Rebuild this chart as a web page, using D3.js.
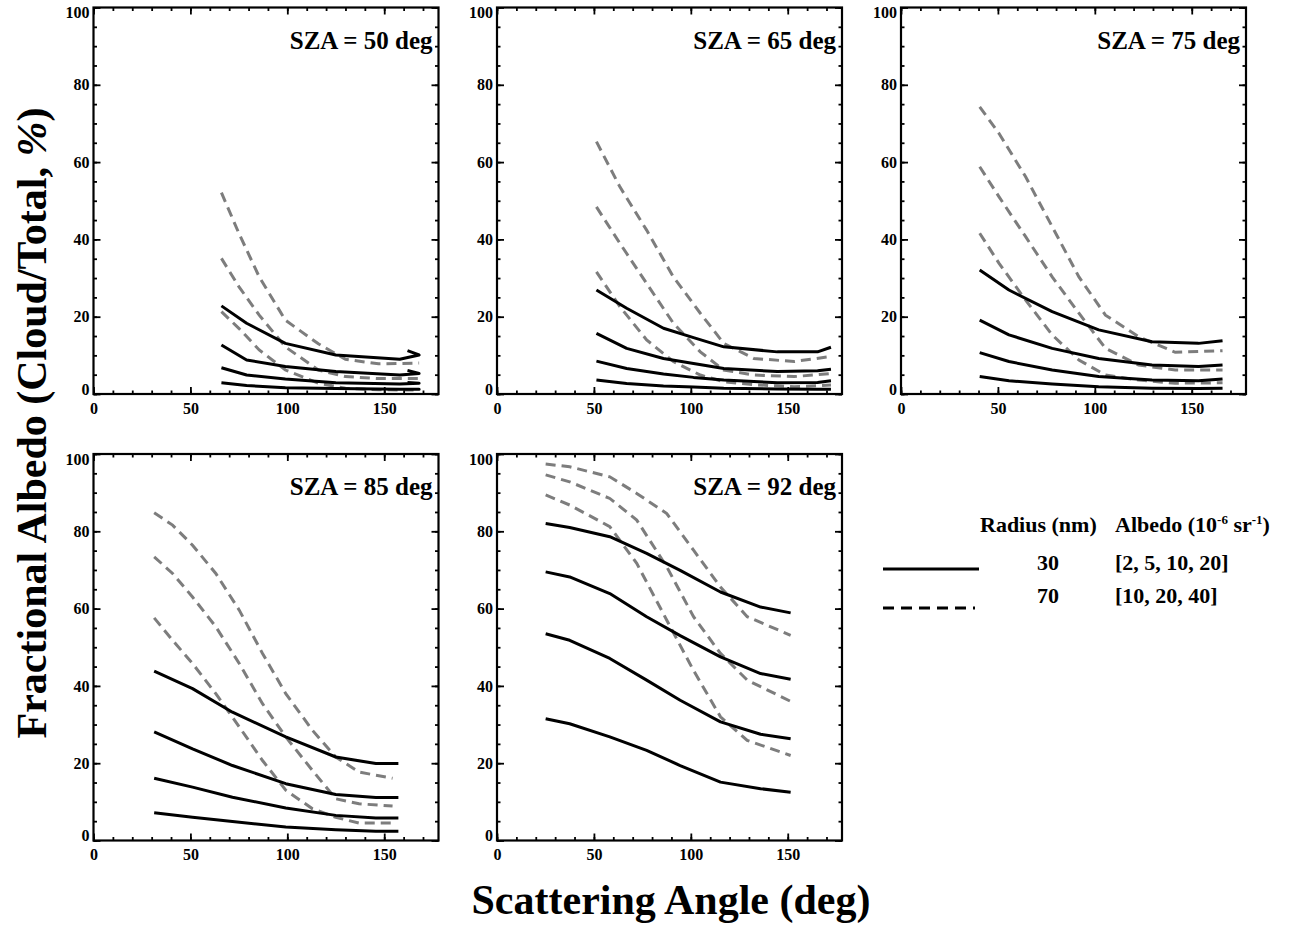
<!DOCTYPE html>
<html>
<head>
<meta charset="utf-8">
<script src="https://cdn.jsdelivr.net/npm/d3@7"></script>
<style>
  html, body { margin: 0; padding: 0; background: #fff; }
  svg { display: block; }
  text { font-family: "Liberation Serif", "Times New Roman", serif; font-weight: bold; fill: #000; }
</style>
</head>
<body>
<svg id="chart" width="1293" height="930"></svg>
<script>
// ---------------- DATA ----------------
const szaLabels = ["SZA = 50 deg", "SZA = 65 deg", "SZA = 75 deg", "SZA = 85 deg", "SZA = 92 deg"];
const xTicks = [0, 50, 100, 150];
const yTicks = [0, 20, 40, 60, 80, 100];

// SZA = 50
const angSolid50 = [66, 79, 99, 125, 158, 168, 162];
const solid50 = [
  [22.8, 18.3, 13.1, 10.1, 9.0, 10.1, 11.2],
  [12.7, 8.8, 7.1, 5.8, 4.9, 5.3, 6.1],
  [6.8, 4.9, 3.9, 2.9, 2.6, 2.8, 3.0],
  [2.9, 2.2, 1.6, 1.4, 1.2, 1.2, 1.2]
];
const angDash50 = [66, 75, 85.5, 99, 116, 130, 147, 168];
const dash50 = [
  [52.1, 41.6, 30.3, 19.1, 13.0, 9.0, 7.8, 8.0],
  [35.1, 27.8, 20.4, 12.2, 6.2, 4.5, 4.0, 4.0],
  [21.3, 17.0, 11.4, 6.2, 2.8, 1.5, 1.1, 1.0]
];

// SZA = 65
const angSolid65 = [51.3, 66.9, 85.9, 101.4, 117, 144.6, 165.4, 172.3];
const solid65 = [
  [26.9, 22.2, 17.0, 14.6, 12.2, 10.9, 10.9, 12.1],
  [15.7, 11.8, 9.2, 7.9, 6.6, 5.8, 6.0, 6.4],
  [8.5, 6.6, 5.2, 4.3, 3.6, 2.9, 3.0, 3.4],
  [3.6, 2.7, 2.1, 1.8, 1.5, 1.3, 1.2, 1.2]
];
const angDash65 = [51.3, 63.4, 77.2, 91, 104.9, 117, 132.5, 153.3, 172.3];
const dash65 = [
  [65.3, 53.6, 42.4, 30.3, 20.9, 13.1, 9.2, 8.4, 9.7],
  [48.4, 39.0, 28.6, 18.3, 10.9, 6.2, 4.9, 4.5, 5.3],
  [31.6, 22.6, 14.0, 8.4, 4.9, 3.2, 2.4, 1.9, 2.3]
];

// SZA = 75
const angSolid75 = [40.6, 55.7, 78, 102, 129.5, 153.5, 165.9];
const solid75 = [
  [32.1, 26.9, 21.3, 16.6, 13.5, 13.1, 13.8],
  [19.1, 15.3, 11.8, 9.2, 7.5, 7.1, 7.5],
  [10.7, 8.4, 6.2, 4.5, 3.6, 3.4, 3.9],
  [4.5, 3.4, 2.6, 1.9, 1.5, 1.4, 1.5]
];
const angDash75 = [40.6, 50.6, 64.3, 78, 91.8, 105.5, 122.6, 141.5, 165.9];
const dash75 = [
  [74.3, 67.4, 56.2, 43.3, 30.3, 20.4, 14.8, 10.8, 11.2],
  [58.8, 51.0, 40.7, 30.3, 20.9, 11.8, 7.5, 6.2, 6.2],
  [41.6, 33.8, 24.3, 15.3, 8.8, 4.9, 3.6, 2.8, 2.9]
];

// SZA = 85
const angSolid85 = [31.3, 51.1, 71.7, 99.2, 125, 145.7, 157.3];
const solid85 = [
  [43.8, 39.3, 33.2, 26.8, 21.6, 19.9, 19.9],
  [28.1, 23.7, 19.4, 14.7, 11.9, 11.1, 11.1],
  [16.1, 13.8, 11.2, 8.4, 6.5, 5.8, 5.8],
  [7.2, 6.0, 4.9, 3.5, 2.8, 2.4, 2.4]
];
const angDash85 = [31.3, 40.8, 51.1, 63.1, 75.2, 87.2, 99.2, 113, 125, 137, 154.3];
const dash85 = [
  [84.8, 81.6, 76.4, 69.1, 59.6, 48.4, 38.0, 28.5, 21.6, 17.7, 16.1],
  [73.4, 69.1, 63.0, 55.3, 45.8, 35.4, 26.8, 18.1, 10.8, 9.5, 8.9],
  [57.6, 51.8, 45.8, 38.0, 29.4, 20.7, 13.0, 8.2, 6.0, 4.5, 4.5]
];

// SZA = 92
const angSolid92 = [25.1, 37.5, 58.2, 77.2, 94.5, 115.3, 136, 151.5];
const solid92 = [
  [82.0, 81.0, 78.6, 74.3, 69.9, 64.3, 60.4, 58.9],
  [69.5, 68.2, 63.9, 57.9, 53.0, 47.5, 43.2, 41.7],
  [53.5, 51.8, 47.1, 41.5, 36.3, 30.7, 27.5, 26.3],
  [31.5, 30.2, 26.8, 23.3, 19.4, 15.1, 13.4, 12.5]
];
const angDash92 = [25.1, 37.5, 58.2, 72.1, 87.6, 101.4, 115.3, 129.1, 151.5];
const dash92 = [
  [97.4, 96.7, 94.1, 89.8, 84.6, 75.1, 65.6, 57.9, 53.1],
  [94.6, 92.8, 88.5, 82.9, 70.8, 57.9, 48.4, 41.5, 36.0],
  [89.4, 86.8, 81.2, 71.7, 57.0, 44.0, 32.0, 25.9, 22.0]
];

const legendRadius = ["30", "70"];
const legendAlbedo = ["[2, 5, 10, 20]", "[10, 20, 40]"];

// ---------------- LAYOUT ----------------
const svg = d3.select("#chart");
const W = 345, H = 386.5;
const lefts = [93.5, 497, 901];
const tops = [7.5, 454];
const panelPos = [[0,0],[1,0],[2,0],[0,1],[1,1]];
const panelData = [
  [angSolid50, solid50, angDash50, dash50],
  [angSolid65, solid65, angDash65, dash65],
  [angSolid75, solid75, angDash75, dash75],
  [angSolid85, solid85, angDash85, dash85],
  [angSolid92, solid92, angDash92, dash92]
];

const x = d3.scaleLinear().domain([0, 178]).range([0, W]);
const y = d3.scaleLinear().domain([0, 100]).range([H, 0]);
const xMinor = d3.range(0, 178, 10);
const yMinor = d3.range(0, 101, 5);

const line = d3.line().x(d => x(d[0])).y(d => y(d[1])).curve(d3.curveLinear);

panelPos.forEach((p, i) => {
  const g = svg.append("g").attr("transform", `translate(${lefts[p[0]]},${tops[p[1]]})`);
  const [as, ss, ad, dd] = panelData[i];

  // curves: dashed first, solid on top
  dd.forEach(vals => {
    g.append("path").datum(vals.map((v, k) => [ad[k], v]))
      .attr("d", line).attr("fill", "none")
      .attr("stroke", "#7d7d7d").attr("stroke-width", 3)
      .attr("stroke-dasharray", "10,6");
  });
  ss.forEach(vals => {
    g.append("path").datum(vals.map((v, k) => [as[k], v]))
      .attr("d", line).attr("fill", "none")
      .attr("stroke", "#000").attr("stroke-width", 3)
      .attr("stroke-linejoin", "round");
  });

  // ticks on all sides
  const mk = (axis, tr) => {
    const a = g.append("g").attr("transform", tr).call(axis);
    a.select(".domain").remove();
    a.selectAll("line").attr("stroke", "#000").attr("stroke-width", 1.8);
    return a;
  };
  mk(d3.axisBottom(x).tickValues(xMinor).tickSize(-3.5).tickFormat(""), `translate(0,${H})`);
  mk(d3.axisTop(x).tickValues(xMinor).tickSize(-3.5).tickFormat(""), `translate(0,0)`);
  mk(d3.axisLeft(y).tickValues(yMinor).tickSize(-3.5).tickFormat(""), `translate(0,0)`);
  mk(d3.axisRight(y).tickValues(yMinor).tickSize(-3.5).tickFormat(""), `translate(${W},0)`);
  const bx = mk(d3.axisBottom(x).tickValues(xTicks).tickSize(-7).tickPadding(8.5).tickFormat(d3.format("d")), `translate(0,${H})`);
  mk(d3.axisTop(x).tickValues(xTicks).tickSize(-7).tickFormat(""), `translate(0,0)`);
  const ly = mk(d3.axisLeft(y).tickValues(yTicks).tickSize(-7).tickPadding(4).tickFormat(d3.format("d")), `translate(0,0)`);
  mk(d3.axisRight(y).tickValues(yTicks).tickSize(-7).tickFormat(""), `translate(${W},0)`);
  [bx, ly].forEach(a => a.selectAll("text")
      .style("font-family", '"Liberation Serif", serif').style("font-weight", "bold")
      .style("font-size", "16px").attr("fill", "#000"));
  ly.selectAll("text").filter(d => d === 0).attr("dy", "0.0em");
  ly.selectAll("text").filter(d => d === 100).attr("dy", "0.65em");

  // frame
  g.append("rect").attr("width", W).attr("height", H)
    .attr("fill", "none").attr("stroke", "#000").attr("stroke-width", 2.2);

  // SZA label
  g.append("text").attr("x", W - 6).attr("y", 41).attr("text-anchor", "end")
    .style("font-size", "25px").text(szaLabels[i]);
});

// axis titles
svg.append("text").attr("x", 671).attr("y", 914).attr("text-anchor", "middle")
  .style("font-size", "42px").text("Scattering Angle (deg)");
const yt = svg.append("text").attr("transform", "translate(46,423) rotate(-90)").attr("text-anchor", "middle")
  .style("font-size", "42px");
yt.append("tspan").text("Fractional Albedo (Cloud/Total, ");
yt.append("tspan").style("font-style", "italic").text("%");
yt.append("tspan").text(")");

// legend
const lg = svg.append("g");
lg.append("text").attr("x", 980).attr("y", 532).style("font-size", "22px").text("Radius (nm)");
const alb = lg.append("text").attr("x", 1115).attr("y", 532).style("font-size", "22px");
alb.append("tspan").text("Albedo (10");
alb.append("tspan").attr("dy", -8).style("font-size", "13px").text("-6");
alb.append("tspan").attr("dy", 8).text(" sr");
alb.append("tspan").attr("dy", -8).style("font-size", "13px").text("-1");
alb.append("tspan").attr("dy", 8).text(")");

const legY = [570, 603];
const lineY = [569, 608];
legendRadius.forEach((r, k) => {
  lg.append("text").attr("x", 1048).attr("y", legY[k]).attr("text-anchor", "middle")
    .style("font-size", "22px").text(r);
  lg.append("text").attr("x", 1115).attr("y", legY[k]).style("font-size", "22px").text(legendAlbedo[k]);
  lg.append("line").attr("x1", 883).attr("x2", k === 0 ? 979 : 975).attr("y1", lineY[k]).attr("y2", lineY[k])
    .attr("stroke", "#000").attr("stroke-width", 3)
    .attr("stroke-dasharray", k === 0 ? null : "11,7");
});
</script>
</body>
</html>
